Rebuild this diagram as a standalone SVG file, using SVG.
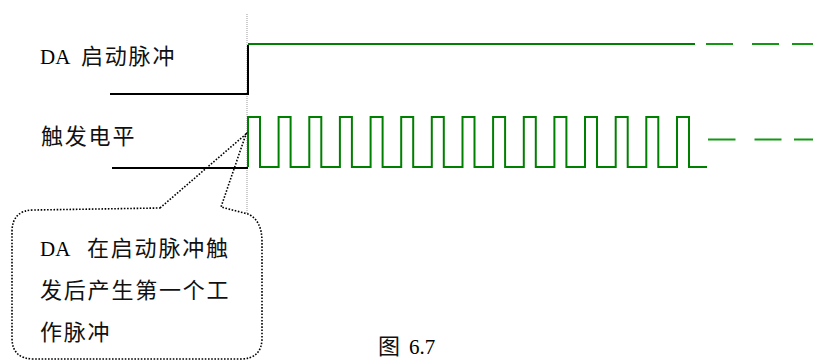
<svg xmlns="http://www.w3.org/2000/svg" width="813" height="361" viewBox="0 0 813 361">
<style>
.lat{font-family:"Liberation Serif","Times New Roman",serif;font-size:21px;fill:#000}
.cjk{font-family:"Noto Sans CJK SC","Noto Sans CJK JP",sans-serif;font-size:22px;fill:#111;letter-spacing:1.8px}
.blk{stroke:#000;stroke-width:2;fill:none}
.grn{stroke:#008000;stroke-width:2;fill:none}
.dash{stroke:#149814;stroke-width:2;fill:none}
.ref{stroke:#999;stroke-width:1;stroke-dasharray:1 1;fill:none}
.dot{stroke:#000;stroke-width:1.6;stroke-dasharray:1.6 1.6;fill:none}
</style>
<rect width="813" height="361" fill="#fff"/>
<g id="reference-line">
<line class="ref" x1="247" y1="14" x2="247" y2="214"/>
</g>
<g id="label-da">
<text y="64"><tspan class="lat" x="40">DA </tspan><tspan class="cjk" x="81">启动脉冲</tspan></text>
</g>
<g id="label-trigger">
<text class="cjk" x="41" y="144">触发电平</text>
</g>
<g id="signal-da">
<path class="blk" d="M110,94 H248 V45"/>
<path class="grn" d="M248,44 H695"/>
<path class="dash" d="M706,44 H733 M752,44 H779 M792,44 H813"/>
</g>
<g id="signal-trigger">
<path class="blk" d="M112,168 H248"/>
<path class="grn" d="M248,167 V117 H260 V167 H278.6 V117 H290.6 V167 H309.3 V117 H321.3 V167 H339.9 V117 H351.9 V167 H370.6 V117 H382.6 V167 H401.2 V117 H413.2 V167 H431.8 V117 H443.8 V167 H462.5 V117 H474.5 V167 H493.1 V117 H505.1 V167 H523.8 V117 H535.8 V167 H554.4 V117 H566.4 V167 H585 V117 H597 V167 H615.7 V117 H627.7 V167 H646.3 V117 H658.3 V167 H677 V117 H689 V167 H707"/>
<path class="dash" d="M708,139.5 H735.5 M754.5,139.5 H781.5 M794,139.5 H813"/>
</g>
<g id="connectors">
<path class="dot" d="M160,208 L246,134 L221,207 L248,214 Q262,220 262,242 L262,338 Q262,359 240,359 L34,359 Q12,359 12,338 L12,232 Q12,210 34,210 Z"/>
</g>
<g id="callout">
<text y="256"><tspan class="lat" x="40">DA </tspan><tspan class="cjk" x="87">在启动脉冲触</tspan></text>
<text class="cjk" x="40" y="298">发后产生第一个工</text>
<text class="cjk" x="40" y="340">作脉冲</text>
</g>
<g id="caption">
<text y="354"><tspan class="cjk" x="378">图</tspan><tspan class="lat" x="409">6.7</tspan></text>
</g>
</svg>
